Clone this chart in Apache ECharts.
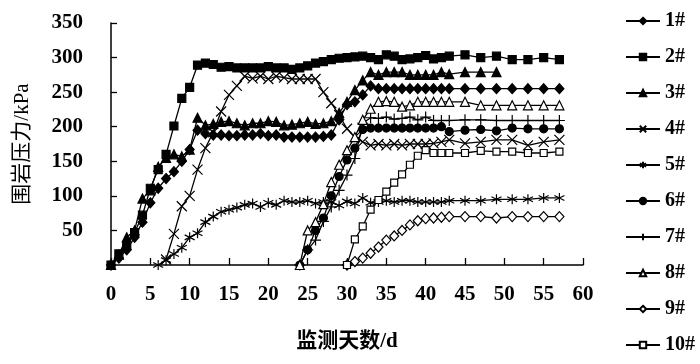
<!DOCTYPE html>
<html><head><meta charset="utf-8">
<script src="https://cdn.jsdelivr.net/npm/echarts@6/dist/echarts.min.js"></script>
<style>html,body{margin:0;padding:0;background:#fff}#c{width:700px;height:364px}</style>
</head><body><div id="c"></div>
<script>
// sampling days
const dayFull = [0,1,2,3,4,5,6,7,8,9,10,11,12,13,14,15,16,17,18,19,20,21,22,23,24,25,26,27,28,29,30,31,32,33,34,35,36,37,38,39,40,41,42,43,45,47,49,51,53,55,57];
const days3 = dayFull.filter(d => d <= 49);
const days4 = dayFull.filter(d => d >= 7);
const days5 = dayFull.filter(d => d >= 6);
const days678 = dayFull.filter(d => d >= 24);
const days910 = dayFull.filter(d => d >= 30);

// series values (kPa)
const s1 = [0,10,22,40,62,90,111,125,135,150, 167,195,190,188,188,187,187,188,188,190, 187,188,185,185,185,185,185,186,188,210, 232,236,246,259,255,255,255,255,255,255, 255,255,255,255, 255,255,255,255,255,255,255];
const s2 = [0,16,28,47,72,111,138,160,201,241, 257,289,292,290,286,287,285,285,285,285, 287,285,285,283,285,288,292,294,297,299, 300,301,302,300,297,304,302,297,298,300, 303,298,300,302, 304,300,302,297,297,300,297];
const s3 = [0,15,40,50,96,108,142,155,160,157, 167,213,202,204,207,208,205,202,205,205, 208,207,202,203,205,207,204,205,208,220, 236,253,267,279,275,279,279,279,275,275, 275,275,279,276, 279,279,279];
const s4 = [8,45,85,100,138,169,192,222,246,259, 273,270,273,269,273,271,269,269,269,269, 250,234,217,197,185,178,173,175,173,175, 173,175,175,175,176,178,181, 176,178,181,181,173,178,181];
const s5 = [0,7,16,25,40,46,62,70,77,80, 83,87,89,84,90,87,93,91,91,93, 89,91,91,86,92,89,97,90,91,93, 91,93,93,91,91,91,91,93, 93,93,95,95,95,97,97];
const s6 = [0,22,50,68,100,128,152,169,196,198, 198,198,198,198,198,198,198,198,200,193, 195,196,194,198,197,197,197];
const s7 = [0,22,36,63,84,108,130,154,205,213, 212,214,211,212,214,210,214,209,209,209, 210,210,209,209,209,209,209];
const s8 = [0,50,62,88,120,145,166,185,210,226, 236,237,236,229,231,236,236,236,236,236, 236,231,231,231,231,231,231];
const s9 = [0,5,10,17,26,36,42,50,58,64, 67,68,69,70, 70,70,68,70,70,70,70];
const s10 = [0,37,56,80,94,106,119,131,145,158, 166,162,162,162, 162,165,164,164,162,162,164];

const names = ['1#','2#','3#','4#','5#','6#','7#','8#','9#','10#'];
const xTicks = [0,5,10,15,20,25,30,35,40,45,50,55,60];
const yTicks = [50,100,150,200,250,300,350];

const zip = (d, v) => d.map((x, i) => [x, v[i]]);
const SER = [[dayFull,s1],[dayFull,s2],[days3,s3],[days4,s4],[days5,s5],[days678,s6],[days678,s7],[days678,s8],[days910,s9],[days910,s10]];

const X = 'path://M0,0L10,10M10,0L0,10';
const STAR = 'path://M5,0L5,10M0.67,2.5L9.33,7.5M0.67,7.5L9.33,2.5';
const PLUS = 'path://M5,0L5,10M0,5L10,5';
const sym = [
  {symbol:'diamond', size:[9,10], fill:'#000'},
  {symbol:'rect', size:8, fill:'#000'},
  {symbol:'triangle', size:9, fill:'#000'},
  {symbol:X, size:10, fill:'rgba(0,0,0,0)'},
  {symbol:STAR, size:10, fill:'rgba(0,0,0,0)'},
  {symbol:'circle', size:8, fill:'#000'},
  {symbol:PLUS, size:11, fill:'rgba(0,0,0,0)'},
  {symbol:'triangle', size:9, fill:'#fff'},
  {symbol:'diamond', size:[9,10], fill:'#fff'},
  {symbol:'rect', size:7, fill:'#fff'}
];

const serif = "'Liberation Serif','Times New Roman','Noto Sans CJK SC',serif";

const series = SER.map((p, i) => ({
  name: names[i],
  type: 'line',
  data: zip(p[0], p[1]),
  symbol: sym[i].symbol,
  symbolSize: sym[i].size,
  showAllSymbol: true,
  lineStyle: {color:'#000', width:1.3},
  itemStyle: {color: sym[i].fill, borderColor:'#000', borderWidth:1.2},
  emphasis: {disabled:true},
  animation: false
}));

const chart = echarts.init(document.getElementById('c'), null, {renderer:'canvas'});
chart.setOption({
  backgroundColor:'#fff',
  animation:false,
  grid:{left:111, right:117, top:23, bottom:99, containLabel:false, outerBoundsMode:'none'},
  legend:{
    data:names, orient:'vertical', left:620, top:6,
    itemWidth:34, itemHeight:8, itemGap:16,
    textStyle:{fontFamily:serif, fontSize:20, fontWeight:'bold', color:'#000', lineHeight:20}
  },
  xAxis:{
    type:'value', min:0, max:60, interval:5,
    name:'监测天数/d', nameLocation:'middle', nameGap:66,
    nameTextStyle:{fontFamily:serif, fontSize:21, fontWeight:'bold', color:'#000'},
    axisLine:{lineStyle:{color:'#000', width:1.5}},
    axisTick:{inside:true, length:7, lineStyle:{color:'#000', width:1.3}},
    axisLabel:{margin:19, fontFamily:serif, fontSize:21, fontWeight:'bold', color:'#000',
      formatter: v => xTicks.includes(v) ? String(v) : ''},
    splitLine:{show:false}
  },
  yAxis:{
    type:'value', min:0, max:350, interval:50,
    name:'围岩压力/kPa', nameLocation:'middle', nameGap:78, nameRotate:90,
    nameTextStyle:{fontFamily:serif, fontSize:21, fontWeight:'normal', color:'#000'},
    axisLine:{show:true, lineStyle:{color:'#000', width:1.5}},
    axisTick:{show:true, inside:true, length:6, lineStyle:{color:'#000', width:1.3}},
    axisLabel:{margin:28, showMinLabel:false, padding:[8,0,0,0], fontFamily:serif, fontSize:21, fontWeight:'bold', color:'#000',
      formatter: v => yTicks.includes(v) ? String(v) : ''},
    splitLine:{show:false}
  },
  series: series
});
</script></body></html>
